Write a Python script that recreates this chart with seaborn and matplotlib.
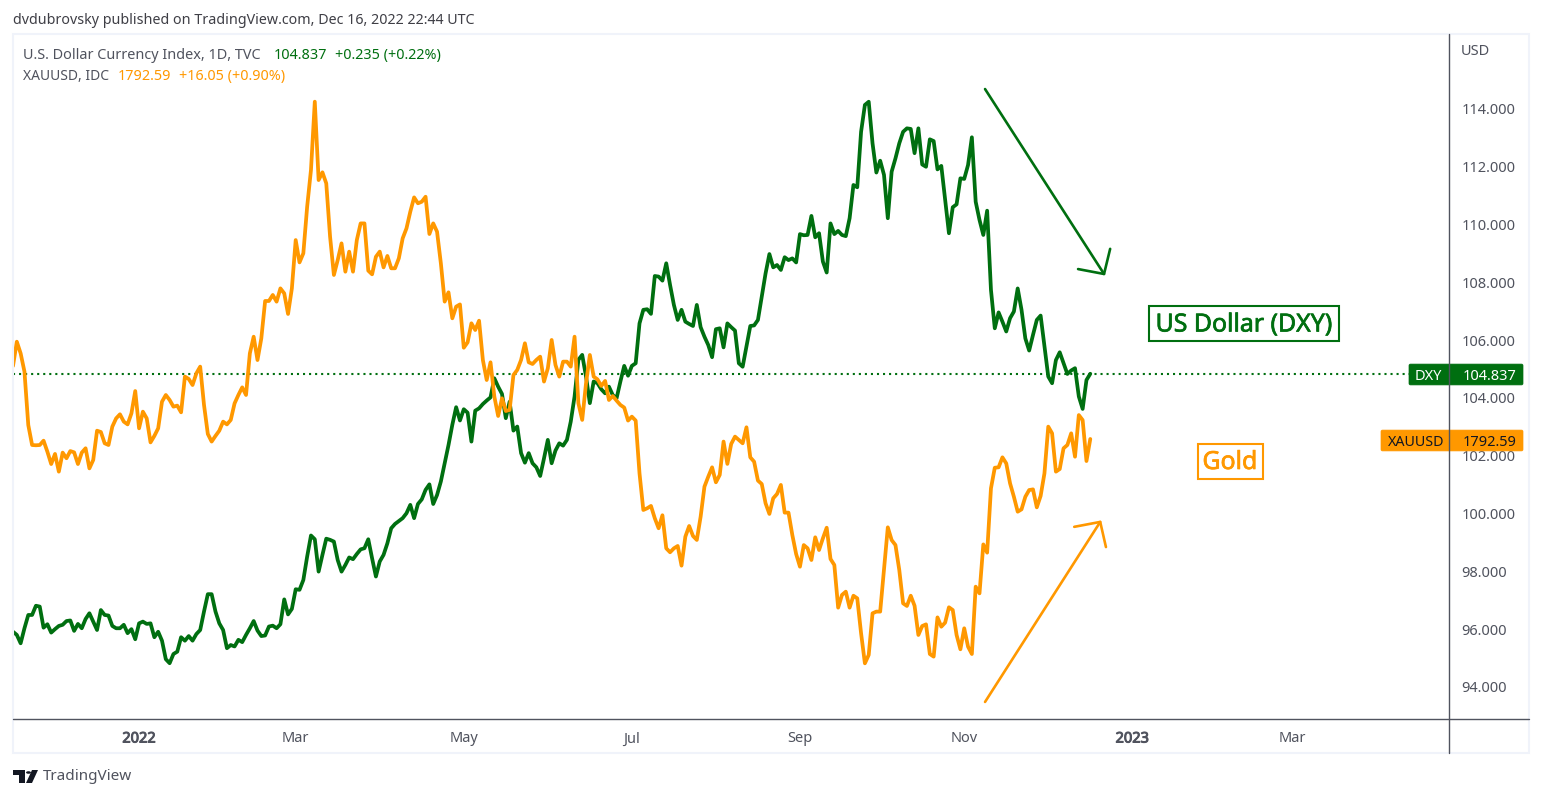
import matplotlib
matplotlib.use('Agg')
import matplotlib.pyplot as plt
import matplotlib.patheffects as pe
from matplotlib.lines import Line2D
from matplotlib.patches import FancyBboxPatch, Polygon, Rectangle
import pandas as pd
import seaborn as sns

# values, one per trading day
dxy_close = [
    95.91, 95.80, 95.51, 96.03, 96.49, 96.49, 96.81, 96.78, 96.05, 96.17, 95.88, 96.00, 96.11, 96.15, 96.28, 96.30,
    95.94, 96.18, 96.03, 96.35, 96.55, 96.26, 95.97, 96.66, 96.49, 96.47, 96.11, 96.03, 96.03, 96.15, 95.86, 96.00,
    95.65, 96.20, 96.26, 96.18, 96.20, 95.72, 95.91, 95.60, 94.96, 94.82, 95.14, 95.22, 95.72, 95.60, 95.76, 95.60,
    95.83, 95.97, 96.61, 97.21, 97.21, 96.61, 96.20, 95.97, 95.34, 95.45, 95.40, 95.63, 95.55, 95.80, 96.03, 96.28,
    95.95, 95.76, 95.78, 96.09, 96.12, 96.03, 96.17, 97.03, 96.51, 96.70, 97.38, 97.36, 97.70, 98.51, 99.24, 99.11,
    97.99, 98.57, 99.13, 99.09, 99.03, 98.39, 97.99, 98.22, 98.48, 98.42, 98.60, 98.76, 98.80, 99.11, 98.45, 97.82,
    98.34, 98.57, 98.97, 99.49, 99.64, 99.74, 99.84, 100.01, 100.30, 99.84, 100.33, 100.49, 100.82, 101.01, 100.33,
    100.64, 101.11, 101.74, 102.37, 103.07, 103.68, 103.22, 103.61, 103.49, 102.49, 103.56, 103.64, 103.79, 103.91,
    104.02, 104.68, 104.39, 104.14, 103.30, 103.87, 102.87, 103.01, 102.09, 101.76, 102.09, 101.74, 101.60, 101.30,
    101.91, 102.55, 101.74, 102.18, 102.43, 102.35, 102.55, 103.18, 104.05, 105.32, 105.49, 104.74, 103.82, 104.57,
    104.51, 104.30, 104.16, 104.39, 104.10, 103.99, 104.57, 105.11, 104.77, 105.11, 105.20, 106.58, 107.05, 107.07,
    106.91, 108.22, 108.20, 108.06, 108.66, 107.91, 107.22, 106.70, 107.05, 106.64, 106.56, 106.49, 107.22, 106.45,
    106.12, 105.83, 105.41, 106.38, 106.41, 105.75, 106.58, 106.45, 106.33, 105.20, 105.08, 105.78, 106.49, 106.51,
    106.70, 107.51, 108.31, 108.98, 108.52, 108.60, 108.43, 108.87, 108.77, 108.83, 108.69, 109.67, 109.63, 109.64,
    110.30, 109.56, 109.70, 108.72, 108.34, 110.04, 109.67, 109.78, 109.64, 109.60, 110.22, 111.37, 111.29, 113.21,
    114.14, 114.25, 112.81, 111.80, 112.21, 111.72, 110.22, 111.83, 112.29, 112.81, 113.21, 113.33, 113.31, 112.47,
    113.33, 112.08, 112.00, 112.95, 112.89, 111.91, 112.03, 110.85, 109.70, 110.60, 110.70, 111.60, 111.58, 112.06,
    113.02, 110.79, 110.16, 109.64, 110.48, 107.74, 106.41, 106.96, 106.64, 106.30, 106.76, 106.99, 107.79, 107.05,
    106.06, 105.64, 106.18, 106.70, 106.85, 105.78, 104.74, 104.51, 105.31, 105.58, 105.20, 104.83, 104.95, 105.03,
    104.05, 103.62, 104.62, 104.837,
]
gold_close = [
    1848.2, 1866.7, 1857.8, 1843.9, 1803.2, 1788.0, 1787.8, 1788.0, 1791.3, 1782.9, 1773.5, 1781.2, 1767.7, 1782.2,
    1777.9, 1783.4, 1782.4, 1773.5, 1782.2, 1785.5, 1770.2, 1776.6, 1798.9, 1797.9, 1789.3, 1788.0, 1802.0, 1808.3,
    1811.4, 1805.8, 1803.7, 1812.1, 1829.1, 1800.7, 1813.4, 1808.3, 1790.0, 1794.9, 1800.7, 1821.0, 1826.1, 1822.3,
    1817.2, 1818.0, 1812.9, 1840.1, 1838.3, 1833.7, 1842.6, 1847.7, 1818.5, 1796.4, 1790.6, 1794.9, 1798.9, 1805.8,
    1803.7, 1807.1, 1819.7, 1826.1, 1831.9, 1826.1, 1857.8, 1870.5, 1852.7, 1869.2, 1897.7, 1897.7, 1902.3, 1897.2,
    1907.3, 1903.5, 1887.8, 1907.3, 1944.1, 1927.1, 1934.0, 1969.5, 1997.5, 2049.5, 1989.8, 1995.7, 1987.3, 1946.7,
    1917.5, 1928.9, 1941.6, 1920.0, 1935.3, 1920.0, 1944.1, 1956.8, 1956.8, 1920.8, 1918.0, 1931.4, 1935.3, 1923.3,
    1932.0, 1922.6, 1922.6, 1930.2, 1945.4, 1953.0, 1965.7, 1976.6, 1972.1, 1973.3, 1977.1, 1948.7, 1956.8, 1950.5,
    1926.4, 1897.2, 1904.3, 1884.5, 1893.4, 1895.1, 1862.1, 1866.2, 1880.7, 1875.6, 1882.7, 1852.7, 1837.5, 1851.0,
    1824.9, 1810.1, 1823.6, 1813.9, 1814.7, 1841.3, 1845.2, 1852.8, 1865.5, 1851.0, 1849.7, 1852.8, 1855.3, 1836.3,
    1846.4, 1868.0, 1849.0, 1840.1, 1851.5, 1851.5, 1847.7, 1870.5, 1819.8, 1807.1, 1835.0, 1856.6, 1840.1, 1838.0,
    1833.0, 1836.8, 1822.3, 1825.3, 1821.8, 1818.5, 1816.5, 1806.6, 1809.6, 1806.6, 1766.4, 1738.5, 1739.8, 1741.6,
    1732.2, 1724.6, 1734.5, 1709.3, 1706.3, 1709.3, 1711.1, 1696.1, 1718.2, 1726.3, 1718.7, 1715.7, 1733.4, 1756.3,
    1763.9, 1771.0, 1759.6, 1765.2, 1790.6, 1773.6, 1788.8, 1794.4, 1791.8, 1789.3, 1801.5, 1778.6, 1775.3, 1760.9,
    1758.3, 1743.6, 1735.5, 1747.4, 1750.7, 1757.6, 1736.5, 1736.5, 1719.5, 1705.0, 1695.3, 1711.8, 1709.3, 1700.4,
    1717.7, 1708.0, 1716.9, 1725.0, 1701.2, 1696.6, 1664.1, 1673.8, 1676.3, 1664.1, 1673.2, 1671.2, 1644.6, 1621.7,
    1628.1, 1659.8, 1661.1, 1661.1, 1692.8, 1725.3, 1715.6, 1711.8, 1692.8, 1667.4, 1665.4, 1673.2, 1665.6, 1643.3,
    1650.1, 1651.4, 1628.8, 1626.8, 1656.7, 1649.6, 1652.7, 1664.4, 1662.3, 1643.3, 1632.4, 1648.4, 1634.4, 1628.8,
    1680.1, 1675.0, 1712.3, 1706.0, 1755.0, 1770.7, 1771.0, 1778.6, 1774.0, 1758.8, 1748.6, 1737.2, 1739.0, 1748.6,
    1753.7, 1754.2, 1740.5, 1749.2, 1766.4, 1802.0, 1796.9, 1767.7, 1769.7, 1785.5, 1788.0, 1796.9, 1779.1, 1810.8,
    1807.0, 1775.8, 1792.59,
]
price_ticks = [94, 96, 98, 100, 102, 104, 106, 108, 110, 112, 114]
month_ticks = ['2022-01-03', '2022-03-01', '2022-05-02', '2022-07-01', '2022-09-01', '2022-11-01', '2023-01-02', '2023-03-01']
month_labels = ['2022', 'Mar', 'May', 'Jul', 'Sep', 'Nov', '2023', 'Mar']

GREEN = '#006F10'
ORANGE = '#FF9800'
AXIS = '#50535E'
FRAME = '#F0F3FA'
W, H = 1542, 798

sns.set_theme(style='white')
plt.rcParams['font.family'] = ['Noto Sans', 'DejaVu Sans']

# weekday calendar, the x axis counts bars and carries on past the last close
days = pd.bdate_range(end='2022-12-16', periods=len(dxy_close))
calendar = pd.bdate_range(days[0], '2023-06-30')
df = pd.DataFrame({'bar': range(len(days)), 'dxy': dxy_close, 'gold': gold_close})


def fx(px):
    return px / W


def fy(py):
    return 1 - py / H


def heavy(color, width=0.5):
    # the regular face only, so thicken the outline a little
    return [pe.withStroke(linewidth=width, foreground=color)]


fig = plt.figure(figsize=(W / 100, H / 100), dpi=100, facecolor='white')
ax = fig.add_axes([fx(13), fy(719), fx(1449 - 13), fy(35) - fy(719)])
ax_gold = ax.twinx()

sns.lineplot(data=df, x='bar', y='dxy', ax=ax, color=GREEN, lw=2.7, solid_joinstyle='round')
sns.lineplot(data=df, x='bar', y='gold', ax=ax_gold, color=ORANGE, lw=2.7, solid_joinstyle='round')
ax.axhline(dxy_close[-1], color=GREEN, lw=1.5, dashes=(1.0, 1.9), zorder=1)

ax.set_xlim(0, 375.9)
ax.set_ylim(92.89, 116.56)
ax_gold.set_ylim(1579.3, 2100.3)
ax_gold.axis('off')

ax.set_xticks([calendar.get_loc(pd.Timestamp(d)) for d in month_ticks])
ax.set_xticklabels(month_labels, fontsize=10.5, color=AXIS)
for lab in ax.get_xticklabels():
    if lab.get_text().startswith('20'):
        lab.set_path_effects(heavy(AXIS, 0.7))
ax.yaxis.tick_right()
ax.set_yticks(price_ticks)
ax.set_yticklabels([f'{v:.3f}' for v in price_ticks], fontsize=10.5, color=AXIS)
ax.tick_params(axis='x', length=0, pad=9)
ax.tick_params(axis='y', length=0, pad=9)
ax.set_xlabel('')
ax.set_ylabel('')
ax_gold.set_ylabel('')
for side in ['top', 'left', 'right', 'bottom']:
    ax.spines[side].set_visible(False)

# drawn trend arrows, in bar / DXY units
arrow_dn_x = [254.45, 285.6]
arrow_dn_y = [114.69, 108.29]
arrow_dn_head_x = [278.8, 285.6, 287.2]
arrow_dn_head_y = [108.46, 108.29, 109.16]
arrow_up_x = [254.45, 284.6]
arrow_up_y = [93.48, 99.71]
arrow_up_head_x = [277.8, 284.6, 286.1]
arrow_up_head_y = [99.54, 99.71, 98.84]
ax.plot(arrow_dn_x, arrow_dn_y, color=GREEN, lw=1.9)
ax.plot(arrow_dn_head_x, arrow_dn_head_y, color=GREEN, lw=1.9)
ax.plot(arrow_up_x, arrow_up_y, color=ORANGE, lw=1.9)
ax.plot(arrow_up_head_x, arrow_up_head_y, color=ORANGE, lw=1.9)


def add_line(x0, y0, x1, y1, color=AXIS, lw=1.0):
    fig.add_artist(Line2D([fx(x0), fx(x1)], [fy(y0), fy(y1)], color=color, lw=lw))


def add_text(px, py, s, **kw):
    kw.setdefault('va', 'center')
    return fig.text(fx(px), fy(py + 1.5), s, **kw)


# outer frame and axis rules
fig.add_artist(Rectangle((fx(13), fy(753)), fx(1529 - 13), fy(34) - fy(753), fill=False, ec=FRAME, lw=1.5))
add_line(13, 719, 1529, 719)
add_line(1449, 34, 1449, 753)

# header lines
add_text(13, 19, 'dvdubrovsky published on TradingView.com, Dec 16, 2022 22:44 UTC', fontsize=10.25, color='#3f3f46')
add_text(23, 54, 'U.S. Dollar Currency Index, 1D, TVC', fontsize=10.4, color=AXIS)
add_text(274, 54, '104.837', fontsize=10.4, color=GREEN)
add_text(335, 54, '+0.235 (+0.22%)', fontsize=10.3, color=GREEN)
add_text(23, 75, 'XAUUSD, IDC', fontsize=10, color=AXIS)
add_text(118, 75, '1792.59', fontsize=10.4, color=ORANGE)
add_text(179, 75, '+16.05 (+0.90%)', fontsize=10.3, color=ORANGE)
add_text(1461, 50, 'USD', fontsize=10.5, color=AXIS)

# drawn text boxes
fig.add_artist(Rectangle((fx(1149), fy(341)), fx(190), fy(306) - fy(341), fill=False, ec=GREEN, lw=1.5))
add_text(1244, 323.5, 'US Dollar (DXY)', fontsize=17.9, color=GREEN, ha='center', path_effects=heavy(GREEN, 0.5))
fig.add_artist(Rectangle((fx(1198), fy(479)), fx(65), fy(444) - fy(479), fill=False, ec=ORANGE, lw=1.5))
add_text(1230, 461, 'Gold', fontsize=17.9, color=ORANGE, ha='center', path_effects=heavy(ORANGE, 0.5))

# last price tags
for x0, y0, x1, y1, col in [(1409, 364, 1523, 385, GREEN), (1381, 430, 1523, 451, ORANGE)]:
    fig.add_artist(FancyBboxPatch((fx(x0) + 0.001, fy(y1) + 0.002), fx(x1 - x0) - 0.002, fy(y0) - fy(y1) - 0.004,
                                  boxstyle='round,pad=0.001', fc=col, ec=col, lw=0.5,
                                  transform=fig.transFigure, mutation_aspect=1.9))
add_text(1415, 374.5, 'DXY', fontsize=10.5, color='white')
add_text(1463, 374.5, '104.837', fontsize=10.5, color='white')
add_text(1388, 440.5, 'XAUUSD', fontsize=10.3, color='#131722')
add_text(1463, 440.5, '1792.59', fontsize=10.5, color='#131722')

# TradingView logo at the bottom
logo = '#131722'
for pts in [
    [(13, 770), (25, 770), (25, 783), (19, 783), (19, 775), (13, 775)],
    [(32, 770), (38, 770), (32, 783), (26, 783)],
]:
    fig.add_artist(Polygon([(fx(a), fy(b)) for a, b in pts], closed=True, fc=logo, ec='none', transform=fig.transFigure))
fig.add_artist(plt.Circle((fx(28.5), fy(772.5)), 0.0016, fc=logo, ec='none', transform=fig.transFigure))
add_text(43, 775.5, 'TradingView', fontsize=11, color=AXIS)

fig.savefig('out.png', dpi=100)
